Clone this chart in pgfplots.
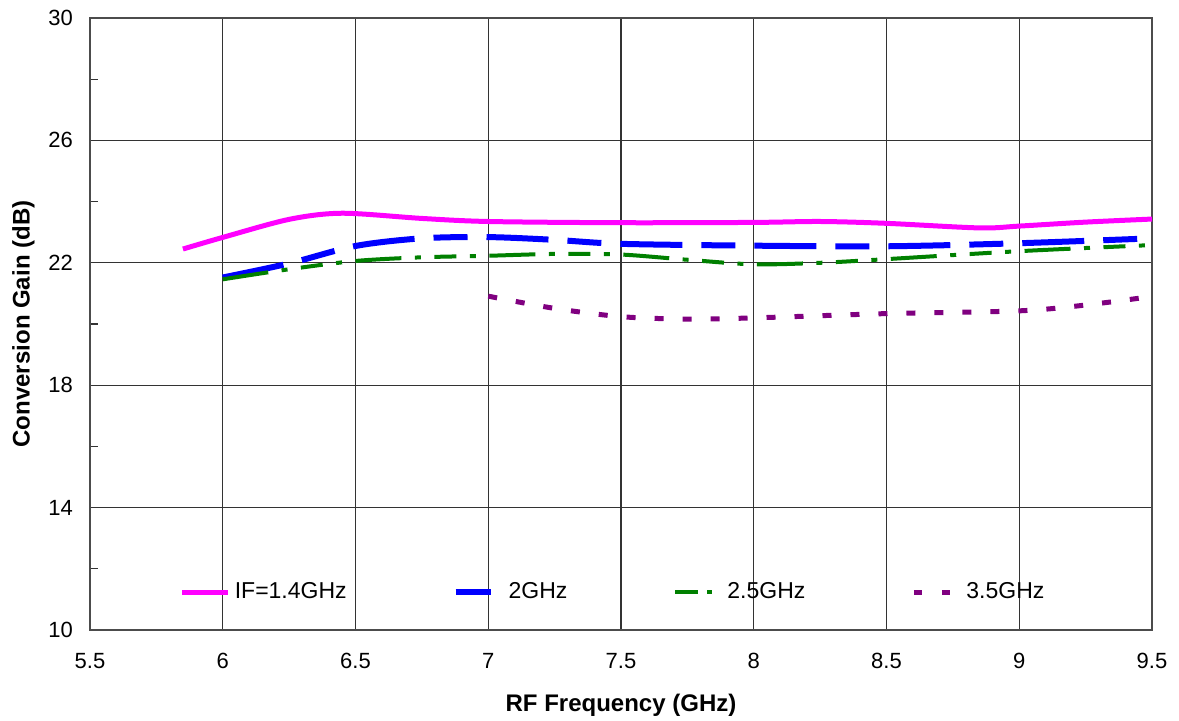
\documentclass[border=0pt]{standalone}
\usepackage{fontspec}
\setmainfont{Liberation Sans}
\usepackage{pgfplots}
\pgfplotsset{compat=1.18}
\definecolor{cmag}{RGB}{255,0,255}
\definecolor{cblue}{RGB}{0,0,255}
\definecolor{cgreen}{RGB}{0,128,0}
\definecolor{cpurp}{RGB}{128,0,128}
\pgfplotsset{
  blueleg/.style={legend image code/.code={\draw[##1, dash pattern=on 17.5pt off 10pt] (0pt,0pt) -- (23pt,0pt);}},
  greenleg/.style={legend image code/.code={\draw[##1, dash pattern=on 11.5pt off 4.5pt on 2.5pt off 10pt] (0pt,0pt) -- (23pt,0pt);}},
  purpleg/.style={legend image code/.code={\draw[##1, dash pattern=on 4pt off 10pt] (0pt,0pt) -- (23pt,0pt);}},
}
\begin{document}
\begin{tikzpicture}
\useasboundingbox (-45pt,-45pt) rectangle (544.5pt,315pt);
\begin{axis}[
  at={(0pt,0pt)}, anchor=south west,
  scale only axis, width=531pt, height=306pt,
  xmin=5.5, xmax=9.5, ymin=10, ymax=30,
  xtick={5.5,6,...,9.5}, ytick={10,14,...,30},
  minor y tick num=1,
  grid=major,
  major grid style={black!80, line width=0.6pt},
  axis line style={black!70, line width=0.8pt},
  tick style={black!80, line width=0.6pt},
  tick align=inside, tick pos=left,
  major tick length=4pt, minor tick length=4pt,
  /pgf/number format/assume math mode=true,
  ticklabel style={font=\fontsize{11}{13}\selectfont},
  xticklabel style={yshift=-8pt},
  yticklabel style={xshift=-5pt},
  xlabel={\textbf{RF Frequency (GHz)}},
  ylabel={\textbf{Conversion Gain (dB)}},
  label style={font=\fontsize{12}{14}\selectfont},
  xlabel style={yshift=-6pt},
  ylabel style={yshift=0pt},
  legend columns=4,
  legend style={draw=none, fill=none, at={(0.4935,0.062)}, anchor=center,
    font=\fontsize{11.5}{13}\selectfont,
    /tikz/every even column/.append style={column sep=51pt}},
  legend image code/.code={\draw[#1] (0pt,0pt) -- (23pt,0pt);},
]
\addplot[cmag, line width=2.5pt, smooth, tension=0.5] coordinates {
 (5.85,22.45) (6,22.83) (6.25,23.42) (6.45,23.62) (6.75,23.45) (7,23.35) (7.5,23.31)
 (8,23.32) (8.25,23.35) (8.5,23.29) (8.85,23.14) (9,23.2) (9.25,23.33) (9.5,23.43)};
\addlegendentry{IF=1.4GHz}
\addplot[cblue, line width=3pt, smooth, tension=0.5,
  dash pattern=on 31pt off 9.5pt on 17pt off 9.5pt, blueleg] coordinates {
 (6,21.52) (6.25,21.98) (6.5,22.55) (6.75,22.8) (7,22.84) (7.25,22.75) (7.5,22.62)
 (8,22.56) (8.5,22.54) (9,22.64) (9.5,22.8)};
\addlegendentry{2GHz}
\addplot[cgreen, line width=2pt, smooth, tension=0.5,
  dash pattern=on 23pt off 6.75pt on 3pt off 6.75pt on 11pt off 6.75pt on 3pt off 6.75pt, greenleg] coordinates {
 (6,21.46) (6.25,21.79) (6.5,22.06) (6.75,22.18) (7,22.23) (7.25,22.29) (7.5,22.27) (7.75,22.1)
 (8,21.95) (8.25,22.0) (8.5,22.12) (9,22.38) (9.5,22.58)};
\addlegendentry{2.5GHz}
\addplot[cpurp, line width=2.5pt, smooth, tension=0.5,
  dash pattern=on 4.5pt off 9.5pt, purpleg] coordinates {
 (7,20.91) (7.25,20.51) (7.5,20.24) (7.75,20.16) (8,20.2) (8.5,20.34) (9,20.43) (9.25,20.62) (9.5,20.9)};
\addlegendentry{3.5GHz}
\end{axis}
\end{tikzpicture}
\end{document}
